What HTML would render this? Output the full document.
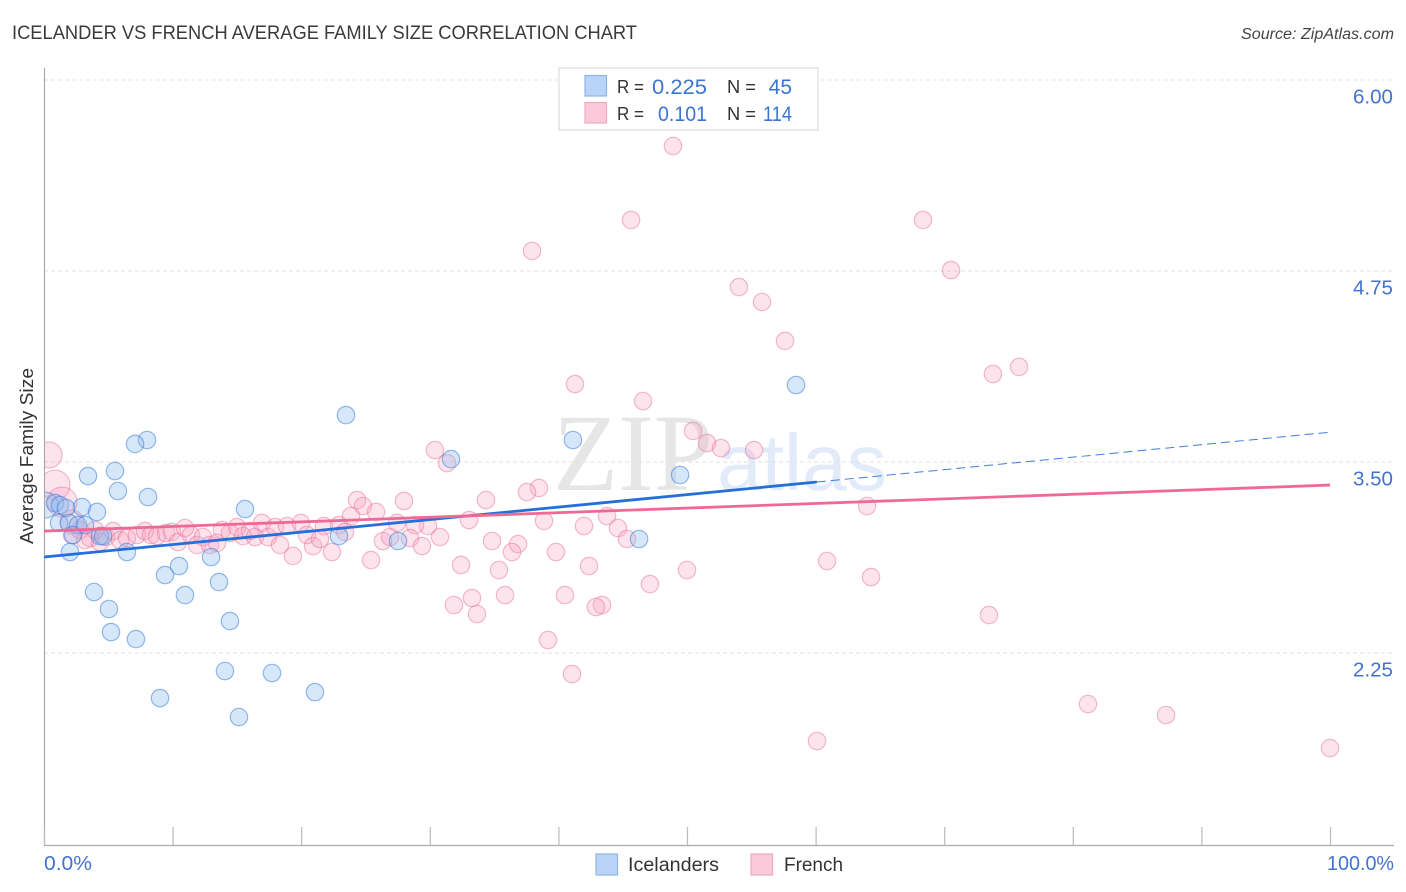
<!DOCTYPE html>
<html lang="en">
<head>
<meta charset="utf-8">
<title>Icelander vs French Average Family Size Correlation Chart</title>
<style>
html,body{margin:0;padding:0;background:#fff;}
svg{display:block;font-family:"Liberation Sans",sans-serif;}
</style>
</head>
<body>
<svg id="chart" width="1406" height="892" viewBox="0 0 1406 892" xmlns="http://www.w3.org/2000/svg">
  <defs>
    <clipPath id="plot-clip"><rect x="45" y="60" width="1361" height="790"/></clipPath>
  </defs>
  <rect x="0" y="0" width="1406" height="892" fill="#ffffff"/>
  <text x="12" y="39" font-size="19" fill="#3a3a3a" textLength="625" lengthAdjust="spacingAndGlyphs">ICELANDER VS FRENCH AVERAGE FAMILY SIZE CORRELATION CHART</text>
  <text x="1241" y="39" font-size="15.5" font-style="italic" fill="#444" textLength="153" lengthAdjust="spacingAndGlyphs">Source: ZipAtlas.com</text>

  <g>
    <text x="553" y="490" font-family="'Liberation Serif',serif" font-size="110" fill="#e6e6e6" textLength="160" lengthAdjust="spacingAndGlyphs">ZIP</text>
    <text x="717" y="490" font-size="80" fill="#e2ebf9" textLength="170" lengthAdjust="spacingAndGlyphs">atlas</text>
  </g>

  <g id="grid"></g>
  <g id="axes">
    <line x1="44.5" y1="68" x2="44.5" y2="845" stroke="#aaaaaa" stroke-width="1.2"/>
    <line x1="44" y1="845.5" x2="1394" y2="845.5" stroke="#aaaaaa" stroke-width="1.2"/>
  </g>
  <g id="x-ticks"></g>
  <g id="y-labels"></g>
  <text transform="translate(33,456) rotate(-90)" font-size="18" fill="#333" text-anchor="middle" textLength="176" lengthAdjust="spacingAndGlyphs">Average Family Size</text>
  <text x="44" y="870" font-size="20" fill="#4472d0" textLength="48" lengthAdjust="spacingAndGlyphs">0.0%</text>
  <text x="1327" y="870" font-size="20" fill="#4472d0" textLength="67" lengthAdjust="spacingAndGlyphs">100.0%</text>

  <g id="french-points" clip-path="url(#plot-clip)"></g>
  <g id="icelander-points" clip-path="url(#plot-clip)"></g>
  <g id="trends"></g>

  <g>
    <rect x="559" y="68" width="259" height="62" fill="#ffffff" fill-opacity="0.9" stroke="#dddddd" stroke-width="1.2"/>
    <rect x="585" y="75.5" width="21.5" height="20.5" fill="#b9d4f7" stroke="#8fb5e8" stroke-width="1.2"/>
    <rect x="585" y="102.5" width="21.5" height="20.5" fill="#fcc9da" stroke="#f0a9c0" stroke-width="1.2"/>
    <text x="617" y="93" font-size="18" fill="#333" textLength="27" lengthAdjust="spacingAndGlyphs">R =</text>
    <text x="652" y="94" font-size="21" fill="#3b74d4" textLength="55" lengthAdjust="spacingAndGlyphs">0.225</text>
    <text x="727" y="93" font-size="18" fill="#333" textLength="29" lengthAdjust="spacingAndGlyphs">N =</text>
    <text x="792" y="94" font-size="21" fill="#3b74d4" text-anchor="end">45</text>
    <text x="617" y="120" font-size="18" fill="#333" textLength="27" lengthAdjust="spacingAndGlyphs">R =</text>
    <text x="658" y="121" font-size="21" fill="#3b74d4" textLength="49" lengthAdjust="spacingAndGlyphs">0.101</text>
    <text x="727" y="120" font-size="18" fill="#333" textLength="29" lengthAdjust="spacingAndGlyphs">N =</text>
    <text x="763" y="121" font-size="21" fill="#3b74d4" textLength="29" lengthAdjust="spacingAndGlyphs">114</text>
  </g>

  <g>
    <rect x="596" y="854" width="21.5" height="21" fill="#b9d4f7" stroke="#8fb5e8" stroke-width="1.2"/>
    <text x="628" y="871" font-size="19" fill="#333" textLength="91" lengthAdjust="spacingAndGlyphs">Icelanders</text>
    <rect x="751" y="854" width="21.5" height="21" fill="#fcc9da" stroke="#f0a9c0" stroke-width="1.2"/>
    <text x="784" y="871" font-size="19" fill="#333" textLength="59" lengthAdjust="spacingAndGlyphs">French</text>
  </g>
</svg>

<script>
// Data: x is percent (0-100), y is average family size.
const yTickValues = [6.00, 4.75, 3.50, 2.25];
const yTickLabels = ["6.00", "4.75", "3.50", "2.25"];
const xTickValues = [0, 10, 20, 30, 40, 50, 60, 70, 80, 90, 100];

const icelanderX = [0.1, 8.01, 7.08, 5.52, 3.42, 5.75, 8.09, 2.95, 4.12, 0.86, 1.24, 1.71, 1.17, 1.94, 2.64, 3.19, 2.25, 4.35, 4.59, 6.45, 2.02, 9.41, 10.5, 12.99, 13.61, 10.96, 3.89, 5.05, 5.21, 7.15, 14.46, 14.07, 17.73, 9.02, 15.16, 21.07, 15.63, 23.48, 31.65, 22.94, 27.53, 41.13, 58.48, 49.46, 46.27];
const icelanderY = [3.218, 3.644, 3.618, 3.441, 3.408, 3.310, 3.271, 3.205, 3.173, 3.231, 3.218, 3.199, 3.101, 3.101, 3.087, 3.087, 3.022, 3.015, 3.015, 2.911, 2.911, 2.760, 2.819, 2.878, 2.714, 2.629, 2.649, 2.538, 2.387, 2.341, 2.459, 2.132, 2.119, 1.955, 1.831, 1.994, 3.192, 3.807, 3.519, 3.015, 2.983, 3.644, 4.004, 3.415, 2.996];
const icelanderWeight = [2.2];

const frenchX = [0.39, 0.86, 1.40, 2.18, 48.91, 45.65, 68.35, 37.95, 70.53, 54.04, 55.83, 57.62, 75.82, 73.79, 41.29, 46.58, 50.47, 51.56, 52.64, 55.21, 30.40, 31.34, 38.49, 37.56, 34.37, 27.99, 24.34, 24.81, 23.87, 25.82, 64.0, 43.78, 33.05, 38.88, 41.99, 44.63, 27.45, 29.86, 28.85, 45.33, 34.84, 36.86, 36.39, 39.81, 32.43, 35.38, 42.38, 50.0, 60.89, 64.31, 47.12, 40.51, 35.85, 33.28, 31.88, 33.67, 43.39, 42.92, 73.48, 39.19, 41.06, 81.18, 87.25, 60.11, 100, 2.18, 2.80, 3.58, 4.35, 4.82, 5.37, 5.91, 6.45, 7.23, 7.85, 8.32, 8.79, 9.49, 9.95, 10.42, 10.96, 11.43, 11.90, 12.36, 12.91, 13.45, 13.84, 14.46, 15.01, 15.47, 16.02, 16.41, 16.95, 17.42, 17.96, 18.35, 18.90, 19.36, 19.98, 20.45, 20.92, 21.46, 21.77, 22.39, 22.94, 23.41, 25.43, 26.36, 26.91, 28.46, 29.39, 30.79, 3.19, 3.97];
const frenchY = [3.546, 3.349, 3.238, 3.107, 5.568, 5.084, 5.084, 4.881, 4.756, 4.645, 4.547, 4.292, 4.122, 4.076, 4.010, 3.899, 3.703, 3.624, 3.591, 3.578, 3.578, 3.493, 3.330, 3.303, 3.251, 3.245, 3.251, 3.212, 3.146, 3.173, 3.212, 3.146, 3.120, 3.114, 3.081, 3.068, 3.101, 3.081, 3.087, 2.996, 2.983, 2.963, 2.911, 2.911, 2.826, 2.793, 2.819, 2.793, 2.852, 2.747, 2.701, 2.629, 2.629, 2.610, 2.564, 2.505, 2.564, 2.551, 2.498, 2.335, 2.112, 1.916, 1.844, 1.674, 1.628, 3.022, 3.055, 3.002, 2.976, 3.009, 3.048, 2.989, 3.002, 3.022, 3.048, 3.022, 3.015, 3.035, 3.042, 2.976, 3.068, 3.022, 2.957, 3.009, 2.957, 2.970, 3.055, 3.035, 3.074, 3.015, 3.048, 3.009, 3.101, 3.009, 3.074, 2.957, 3.081, 2.885, 3.101, 3.022, 2.950, 2.996, 3.081, 2.911, 3.087, 3.042, 2.858, 2.983, 3.009, 3.002, 2.950, 3.009, 2.989, 3.055];
const frenchWeight = [2.23, 2.97, 2.97, 1.9];

const icelanderTrend = [2.878, 3.695];
const frenchTrend = [3.048, 3.349];
const icelanderSolidEnd = 60.1;

const SVG_NS = "http://www.w3.org/2000/svg";
function xScale(v) { return 44 + v * 12.86; }
function yScale(v) { return 80 + (6 - v) * 152.8; }
function trendAt(t, v) { return t[0] + (t[1] - t[0]) * v / 100; }
function make(tag, attrs, parent) {
  const el = document.createElementNS(SVG_NS, tag);
  for (const k in attrs) el.setAttribute(k, attrs[k]);
  parent.appendChild(el);
  return el;
}

const gridG = document.getElementById("grid");
const yLabelG = document.getElementById("y-labels");
yTickValues.forEach(function (v, i) {
  const line = make("line", { x1: 44, x2: 1394, y1: yScale(v), y2: yScale(v), stroke: "#e2e2e2", "stroke-width": 1, "stroke-dasharray": "4 3" }, gridG);
  
  
  const label = make("text", { x: 1353, y: yScale(v) + 23.5, "font-size": 20, fill: "#4472d0", textLength: 40, lengthAdjust: "spacingAndGlyphs" }, yLabelG);
  label.textContent = yTickLabels[i];
  
  
});

const tickG = document.getElementById("x-ticks");
xTickValues.forEach(function (v) {
  const tick = make("line", { x1: xScale(v) + 0.5, x2: xScale(v) + 0.5, y1: 827, y2: 845, stroke: "#bbbbbb", "stroke-width": 1.2 }, tickG);
  
  
});

const BASE_R = 8.7;
const frenchG = document.getElementById("french-points");
frenchX.forEach(function (x, i) {
  const w = frenchWeight[i] || 1;
  const c = make("circle", { cx: xScale(x), cy: yScale(frenchY[i]), r: BASE_R * Math.sqrt(w), fill: "#f7a3bf", "fill-opacity": 0.3, stroke: "#e8779c", "stroke-opacity": 0.5, "stroke-width": 1.2 }, frenchG);
  
  
});

const icelanderG = document.getElementById("icelander-points");
icelanderX.forEach(function (x, i) {
  const w = icelanderWeight[i] || 1;
  const c = make("circle", { cx: xScale(x), cy: yScale(icelanderY[i]), r: BASE_R * Math.sqrt(w), fill: "#8db9f0", "fill-opacity": 0.35, stroke: "#3f82d8", "stroke-opacity": 0.55, "stroke-width": 1.2 }, icelanderG);
  
  
});

const trendG = document.getElementById("trends");
const blueSolid = make("line", { x1: xScale(0), y1: yScale(trendAt(icelanderTrend, 0)), x2: xScale(icelanderSolidEnd), y2: yScale(trendAt(icelanderTrend, icelanderSolidEnd)), stroke: "#2470d8", "stroke-width": 2.8 }, trendG);


const blueDash = make("line", { x1: xScale(icelanderSolidEnd), y1: yScale(trendAt(icelanderTrend, icelanderSolidEnd)), x2: xScale(100), y2: yScale(trendAt(icelanderTrend, 100)), stroke: "#3f7fd8", "stroke-width": 1, "stroke-dasharray": "9 5" }, trendG);


const pinkLine = make("line", { x1: xScale(0), y1: yScale(trendAt(frenchTrend, 0)), x2: xScale(100), y2: yScale(trendAt(frenchTrend, 100)), stroke: "#ee6a94", "stroke-width": 2.8 }, trendG);


</script>
</body>
</html>
